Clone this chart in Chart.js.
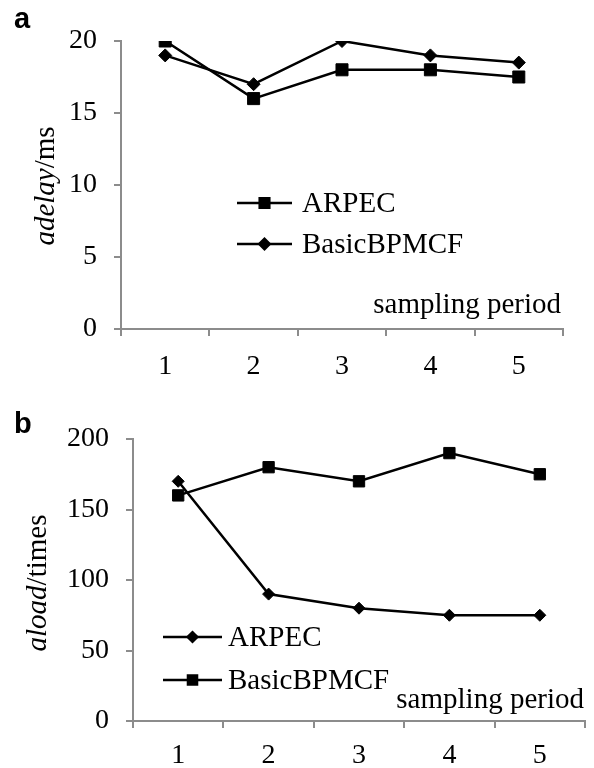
<!DOCTYPE html>
<html>
<head>
<meta charset="utf-8">
<script src="https://cdn.jsdelivr.net/npm/chart.js@4.4.1/dist/chart.umd.min.js"></script>
<style>
    html, body { margin: 0; padding: 0; background: #fff; }
    #wrap { position: relative; width: 594px; height: 768px; }
    canvas { position: absolute; left: 0; }
    #chartA { top: 0; }
    #chartB { top: 384px; }
</style>
</head>
<body>
<div id="wrap">
    <canvas id="chartA" width="594" height="384"></canvas>
    <canvas id="chartB" width="594" height="384"></canvas>
</div>
<script>
(function() {
    'use strict';

    // data
    const periods = ['1', '2', '3', '4', '5'];
    const delayArpec = [20, 16, 18, 18, 17.5];
    const delayBasic = [19, 17, 20, 19, 18.5];
    const delayTicks = [0, 5, 10, 15, 20];
    const loadArpec = [170, 90, 80, 75, 75];
    const loadBasic = [160, 180, 170, 190, 175];
    const loadTicks = [0, 50, 100, 150, 200];

    const SERIF = '"Liberation Serif", "Times New Roman", serif';
    const AXIS = '#8c8c8c';

    // panel letter, y title, x caption and the inside legend
    const annotations = {
        id: 'annotations',
        afterDraw(chart, args, opts) {
            const ctx = chart.ctx;
            ctx.save();
            ctx.fillStyle = '#000';

            ctx.font = 'bold 29px "Liberation Sans", Arial, sans-serif';
            ctx.textAlign = 'left';
            ctx.textBaseline = 'alphabetic';
            ctx.fillText(opts.letter, 14, opts.letterY);

            // rotated y title: italic name + plain unit
            ctx.save();
            ctx.translate(opts.titleX, opts.titleY);
            ctx.rotate(-Math.PI / 2);
            ctx.textBaseline = 'middle';
            ctx.font = 'italic 29px ' + SERIF;
            const w1 = ctx.measureText(opts.titleName).width;
            ctx.font = '29px ' + SERIF;
            const w2 = ctx.measureText(opts.titleUnit).width;
            let x = -(w1 + w2) / 2;
            ctx.font = 'italic 29px ' + SERIF;
            ctx.fillText(opts.titleName, x, 0);
            ctx.font = '29px ' + SERIF;
            ctx.fillText(opts.titleUnit, x + w1, 0);
            ctx.restore();

            ctx.font = '29px ' + SERIF;
            ctx.textAlign = 'right';
            ctx.textBaseline = 'middle';
            ctx.fillText('sampling period', opts.captionX, opts.captionY);

            // legend
            ctx.textAlign = 'left';
            chart.data.datasets.forEach(function(ds, i) {
                const y = opts.legendY + i * opts.legendGap;
                ctx.strokeStyle = '#000';
                ctx.lineWidth = 2.5;
                ctx.beginPath();
                ctx.moveTo(opts.legendX1, y);
                ctx.lineTo(opts.legendX2, y);
                ctx.stroke();
                ctx.fillStyle = '#000';
                Chart.helpers.drawPoint(ctx, {
                    pointStyle: ds.pointStyle,
                    radius: ds.pointRadius * 0.8,
                    rotation: 0,
                    borderWidth: 1
                }, (opts.legendX1 + opts.legendX2) / 2, y);
                ctx.fillStyle = '#000';
                ctx.fillText(ds.label, opts.legendX2 + opts.legendTextGap, y + 1);
            });
            ctx.restore();
        }
    };

    function series(label, data, style, radius) {
        return {
            label: label,
            data: data,
            borderColor: '#000',
            backgroundColor: '#000',
            borderWidth: 2.5,
            pointStyle: style,
            pointRadius: radius,
            pointBorderWidth: 1,
            pointBackgroundColor: '#000',
            pointBorderColor: '#000',
            tension: 0
        };
    }

    function makeChart(canvasId, datasets, ticks, area, notes) {
        const step = ticks[1] - ticks[0];
        return new Chart(document.getElementById(canvasId), {
            type: 'line',
            data: { labels: periods, datasets: datasets },
            options: {
                responsive: false,
                animation: false,
                layout: {
                    padding: { left: 0, top: area.top, right: 594 - area.right, bottom: 0 }
                },
                plugins: {
                    legend: { display: false },
                    tooltip: { enabled: false },
                    annotations: notes
                },
                scales: {
                    x: {
                        type: 'category',
                        offset: true,
                        afterFit: function(s) { s.height = 384 - area.bottom; },
                        border: { display: true, color: AXIS, width: 2 },
                        grid: {
                            offset: true,
                            drawOnChartArea: false,
                            drawTicks: true,
                            tickLength: 7,
                            color: AXIS,
                            lineWidth: 2
                        },
                        ticks: {
                            color: '#000',
                            padding: area.labelPad,
                            font: { family: SERIF, size: 28 }
                        }
                    },
                    y: {
                        min: ticks[0],
                        max: ticks[ticks.length - 1],
                        afterFit: function(s) { s.width = area.left; },
                        afterBuildTicks: function(s) {
                            s.ticks = ticks.map(function(v) { return { value: v }; });
                        },
                        border: { display: true, color: AXIS, width: 2 },
                        grid: {
                            drawOnChartArea: false,
                            drawTicks: true,
                            tickLength: 7,
                            color: AXIS,
                            lineWidth: 2
                        },
                        ticks: {
                            stepSize: step,
                            color: '#000',
                            padding: 17,
                            font: { family: SERIF, size: 28 }
                        }
                    }
                }
            },
            plugins: [annotations]
        });
    }

    makeChart('chartA', [
        series('ARPEC', delayArpec, 'rect', 8.5),
        series('BasicBPMCF', delayBasic, 'rectRot', 6.5)
    ], delayTicks, { left: 121, top: 41, right: 563, bottom: 329, labelPad: 14 }, {
        letter: 'a', letterY: 28,
        titleName: 'adelay', titleUnit: '/ms', titleX: 46, titleY: 186,
        captionX: 561, captionY: 305,
        legendY: 203, legendGap: 41, legendX1: 237, legendX2: 292, legendTextGap: 10
    });

    makeChart('chartB', [
        series('ARPEC', loadArpec, 'rectRot', 6),
        series('BasicBPMCF', loadBasic, 'rect', 8)
    ], loadTicks, { left: 133, top: 55, right: 585, bottom: 337, labelPad: 11 }, {
        letter: 'b', letterY: 49,
        titleName: 'aload', titleUnit: '/times', titleX: 38, titleY: 199,
        captionX: 584, captionY: 316,
        legendY: 253, legendGap: 43, legendX1: 163, legendX2: 222, legendTextGap: 6
    });

})();
</script>
</body>
</html>
